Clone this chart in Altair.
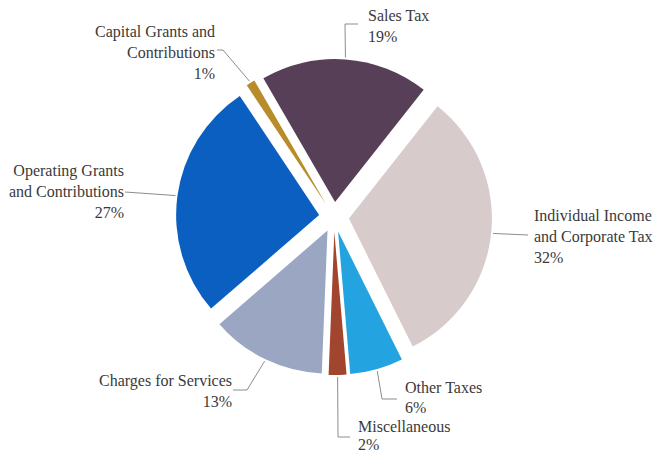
import altair as alt
import numpy as np
import pandas as pd

# ---- data ----
categories = [
    "Sales Tax",
    "Individual Income and Corporate Tax",
    "Other Taxes",
    "Miscellaneous",
    "Charges for Services",
    "Operating Grants and Contributions",
    "Capital Grants and Contributions",
]
shares = [19, 32, 6, 2, 13, 27, 1]
label_lines = [
    ["Sales Tax"],
    ["Individual Income", "and Corporate Tax"],
    ["Other Taxes"],
    ["Miscellaneous"],
    ["Charges for Services"],
    ["Operating Grants", "and Contributions"],
    ["Capital Grants and", "Contributions"],
]
colors = ["#573f57", "#d7cbcc", "#23a3e0", "#a2452f", "#9aa6c2", "#0a5fc0", "#b88c2a"]

# ---- layout (pixels in plot area) ----
W, H = 647, 444
CX, CY = 326, 209
R = 143
EXPLODE = 15
LEAD_R = 145
START = np.deg2rad(-30.1)
FONT = "'Liberation Serif', 'Times New Roman', serif"
label_anchor = [  # x, y of first line, align, line step
    (360, 8, "left", 21),
    (526, 208, "left", 21),
    (397, 380, "left", 20),
    (350, 419, "left", 18),
    (224, 373, "right", 21),
    (116, 163, "right", 21),
    (207, 24, "right", 21),
]
leader_bends = [  # elbow, end
    ((337, 16), (350, 16)),
    ((520, 227), (520, 227)),
    ((374, 391), (389, 391)),
    ((330, 429), (342, 429)),
    ((239, 382), (225, 382)),
    ((117, 184), (117, 184)),
    ((215, 42), (209, 42)),
]

total = sum(shares)
cum = np.concatenate([[0], np.cumsum(shares)])
t0, t1 = cum[:-1], cum[1:]
mid = START + (t0 + t1) / 2 / total * 2 * np.pi
ox = CX + EXPLODE * np.sin(mid)
oy = CY - EXPLODE * np.cos(mid)

slices = pd.DataFrame({
    "category": categories, "share": shares, "t0": t0, "t1": t1, "ox": ox, "oy": oy,
})

rows = []
for i, c in enumerate(categories):
    sx = ox[i] + LEAD_R * np.sin(mid[i])
    sy = oy[i] - LEAD_R * np.cos(mid[i])
    pts = [(sx, sy), leader_bends[i][0], leader_bends[i][1]]
    for k, (px, py) in enumerate(pts):
        rows.append({"category": c, "pt": k, "lx": px, "ly": py})
leaders = pd.DataFrame(rows)

trows = []
for i, c in enumerate(categories):
    lines = label_lines[i] + [f"{shares[i]}%"]
    ax, ay, al, step = label_anchor[i]
    for k, t in enumerate(lines):
        trows.append({"category": c, "text": t, "tx": ax, "ty": ay + k * step, "align": al})
texts = pd.DataFrame(trows)

arcs = alt.Chart(slices).mark_arc(outerRadius=R).encode(
    x=alt.X("ox:Q", scale=None, axis=None),
    y=alt.Y("oy:Q", scale=None, axis=None),
    theta=alt.Theta("t0:Q", scale=alt.Scale(domain=[0, total], range=[float(START), float(START + 2 * np.pi)])),
    theta2="t1:Q",
    color=alt.Color("category:N", scale=alt.Scale(domain=categories, range=colors), legend=None),
)

lead = alt.Chart(leaders).mark_line(color="#8c8c8c", strokeWidth=1).encode(
    x=alt.X("lx:Q", scale=None, axis=None),
    y=alt.Y("ly:Q", scale=None, axis=None),
    detail="category:N",
    order="pt:Q",
)

def text_layer(al):
    return alt.Chart(texts).transform_filter(alt.datum.align == al).mark_text(
        align=al, baseline="middle", font=FONT, fontSize=16, color="#3a3a3a"
    ).encode(
        x=alt.X("tx:Q", scale=None, axis=None),
        y=alt.Y("ty:Q", scale=None, axis=None),
        text="text:N",
    )

chart = alt.layer(lead, arcs, text_layer("left"), text_layer("right")).properties(
    width=W, height=H, padding=0, autosize="none", background="white"
).configure_view(stroke=None).configure_text(font=FONT)

chart.save("out.html", embed_options={"renderer": "svg", "actions": False})
